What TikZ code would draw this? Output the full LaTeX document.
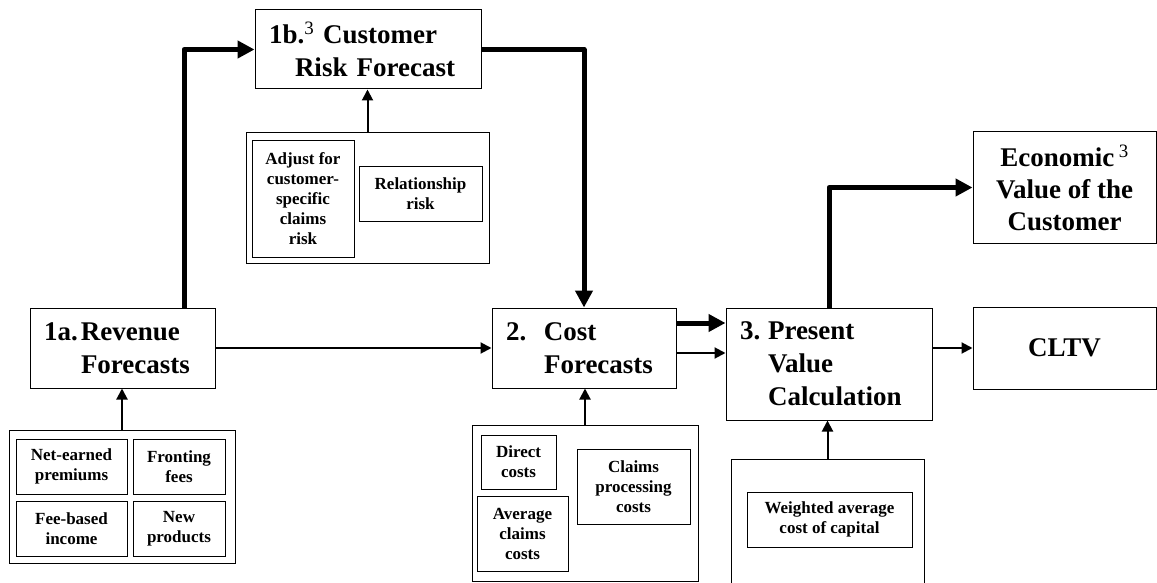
\documentclass[tikz,border=0pt]{standalone}
\usepackage{fontspec}
\setmainfont{Liberation Serif}
\usetikzlibrary{arrows.meta}
\tikzset{
  stepbox/.style={draw, line width=1pt, align=left, inner xsep=14pt, inner ysep=0pt,
    font=\bfseries\fontsize{27}{33}\selectfont},
  endbox/.style={draw, line width=1pt, align=center, inner sep=0pt,
    font=\bfseries\fontsize{27}{32}\selectfont},
  groupbox/.style={draw, line width=1pt, inner sep=0pt},
  itembox/.style={draw, line width=1pt, align=center, inner sep=0pt,
    font=\bfseries\fontsize{17}{20}\selectfont},
  flow/.style={line width=2pt, -{Triangle[length=11pt,width=11pt]}},
  mainflow/.style={line width=5pt, line join=round, -{Triangle[length=17pt,width=17pt]}},
}
\begin{document}
\begin{tikzpicture}[x=1pt, y=-1pt]
  \path[use as bounding box, clip] (0,0) rectangle (1157,583);
  % main steps
  \node[stepbox, text width=157pt, minimum height=80pt] (rev) at (122.5,348)
    {\makebox[37pt][l]{1a.}Revenue\\\hspace*{37pt}Forecasts};
  \node[stepbox, text width=198pt, minimum height=79pt] (risk) at (368,49.5)
    {1b.\textsuperscript{\mdseries 3} Customer\\\hspace*{26pt}Risk Forecast};
  \node[stepbox, text width=156pt, minimum height=80pt] (cost) at (584,348)
    {\makebox[38pt][l]{2.}Cost\\\hspace*{38pt}Forecasts};
  \node[stepbox, text width=178pt, minimum height=112pt] (pv) at (829,364)
    {\makebox[28pt][l]{3.}Present\\\hspace*{28pt}Value\\\hspace*{28pt}Calculation};
  \node[endbox, minimum width=183pt, minimum height=82pt] (cltv) at (1064.5,348) {CLTV};
  \node[endbox, minimum width=183pt, minimum height=111pt] (ev) at (1064.5,187.5)
    {Economic\,\textsuperscript{\mdseries 3}\\Value of the\\Customer};
  % input groups
  \node[groupbox, minimum width=226pt, minimum height=133pt] (revin) at (122,496.5) {};
  \node[groupbox, minimum width=243pt, minimum height=130pt] (riskin) at (367.5,198) {};
  \node[groupbox, minimum width=226pt, minimum height=156pt] (costin) at (585,503) {};
  \node[groupbox, minimum width=193pt, minimum height=141pt] (pvin) at (827.5,529.5) {};
  % input items
  \node[itembox, minimum width=111pt, minimum height=55pt] (net) at (71.5,466.5) {Net-earned\\premiums};
  \node[itembox, minimum width=92pt, minimum height=55pt] (front) at (179,466.5) {Fronting\\fees};
  \node[itembox, minimum width=111pt, minimum height=55pt] (fee) at (71.5,528.5) {Fee-based\\income};
  \node[itembox, minimum width=92pt, minimum height=55pt] (newp) at (179,528.5) {New\\products};
  \node[itembox, minimum width=102pt, minimum height=116pt] (adjust) at (303,199)
    {Adjust for\\customer-\\specific\\claims\\risk};
  \node[itembox, minimum width=123pt, minimum height=54pt] (rel) at (420.5,194) {Relationship\\risk};
  \node[itembox, minimum width=75pt, minimum height=54pt] (direct) at (518.5,462) {Direct\\costs};
  \node[itembox, minimum width=91pt, minimum height=75pt] (avg) at (522.5,533.5) {Average\\claims\\costs};
  \node[itembox, minimum width=113pt, minimum height=75pt] (claims) at (633.5,486.5)
    {Claims\\processing\\costs};
  \node[itembox, minimum width=165pt, minimum height=55pt] (wacc) at (829.5,519.5)
    {Weighted average\\cost of capital};
  % connectors
  \coordinate (revtop) at (184,308);
  \draw[mainflow] (revtop) |- (risk.west);
  \draw[mainflow] (risk.east) -| (cost.north);
  \draw[flow] (rev.east) -- (cost.west);
  \path (cost.east) ++(0,-25) coordinate (c1) ++(0,30) coordinate (c2);
  \draw[mainflow] (c1) -- (c1 -| pv.west);
  \draw[flow] (c2) -- (c2 -| pv.west);
  \draw[mainflow] (pv.north) |- (ev.west);
  \draw[flow] (pv.east |- cltv.west) -- (cltv.west);
  \draw[flow] (revin.north) -- (revin.north |- rev.south);
  \draw[flow] (riskin.north) -- (riskin.north |- risk.south);
  \draw[flow] (costin.north) -- (costin.north |- cost.south);
  \draw[flow] (pvin.north) -- (pvin.north |- pv.south);
\end{tikzpicture}
\end{document}
